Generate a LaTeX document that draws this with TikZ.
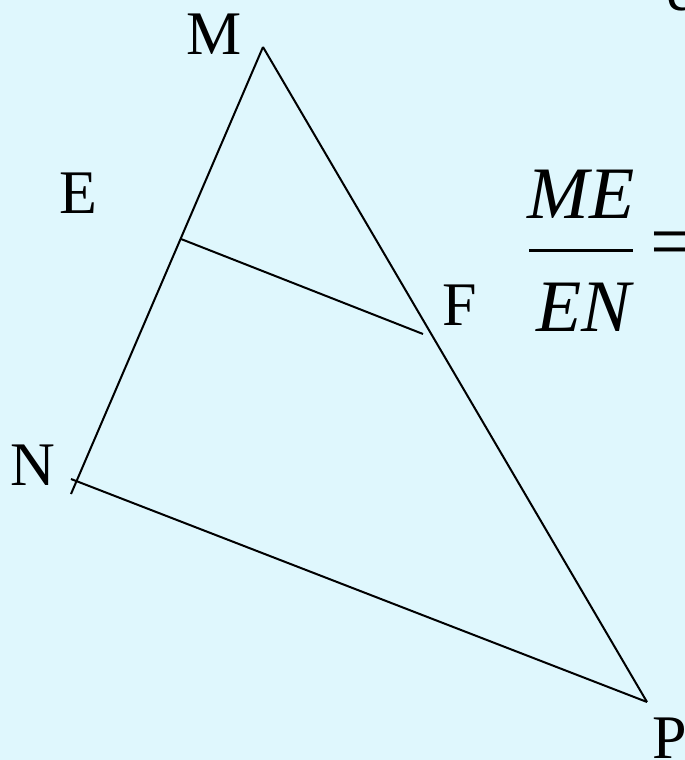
\documentclass[tikz,border=0pt]{standalone}
\usepackage{fontspec}
\setmainfont{Liberation Serif}
\usetikzlibrary{positioning}
\definecolor{cbg}{HTML}{DFF7FD}
\tikzset{
  lbl/.style={inner sep=0pt,font=\fontsize{31}{31}\selectfont},
  fracpart/.style={inner sep=0pt,font=\fontsize{37}{37}\selectfont\itshape},
  seg/.style={line width=1pt}
}

\begin{document}
\begin{tikzpicture}[x=0.5pt,y=-0.5pt]
    \fill[cbg] (0,0) rectangle (685,760);
    \useasboundingbox (0,0) rectangle (685,760);
    \clip (0,0) rectangle (685,760);
    % triangle corners and points on the sides
    \coordinate (M) at (263,47);
    \coordinate (N) at (71,479);
    \coordinate (Nend) at (71,494);
    \coordinate (P) at (647,702);
    \coordinate (E) at (181,239);
    \coordinate (F) at (423,334);
    \draw[seg] (M)--(Nend);
    \draw[seg] (M)--(P);
    \draw[seg] (N)--(P);
    \draw[seg] (E)--(F);
    % labels
    \node[lbl] (lM) at (214,34) {M};
    \node[lbl] (lE) at (78,193) {E};
    \node[lbl] (lF) at (460,305) {F};
    \node[lbl] (lN) at (33,465) {N};
    \node[lbl,anchor=west] (lP) at (652,738) {P};
    \node[lbl,anchor=south west] (lTop) at (666,12) {e};
    % ratio
    \coordinate (barl) at (529,250);
    \coordinate (barr) at (633,250);
    \draw[line width=1.5pt] (barl)--(barr);
    \node[fracpart] (num) at (581,194) {ME};
    \node[fracpart] (den) at (584,307) {EN};
    \node[fracpart,font=\fontsize{40}{40}\selectfont,anchor=west] (eq) at (650,250) {=};
  \end{tikzpicture}
\end{document}
